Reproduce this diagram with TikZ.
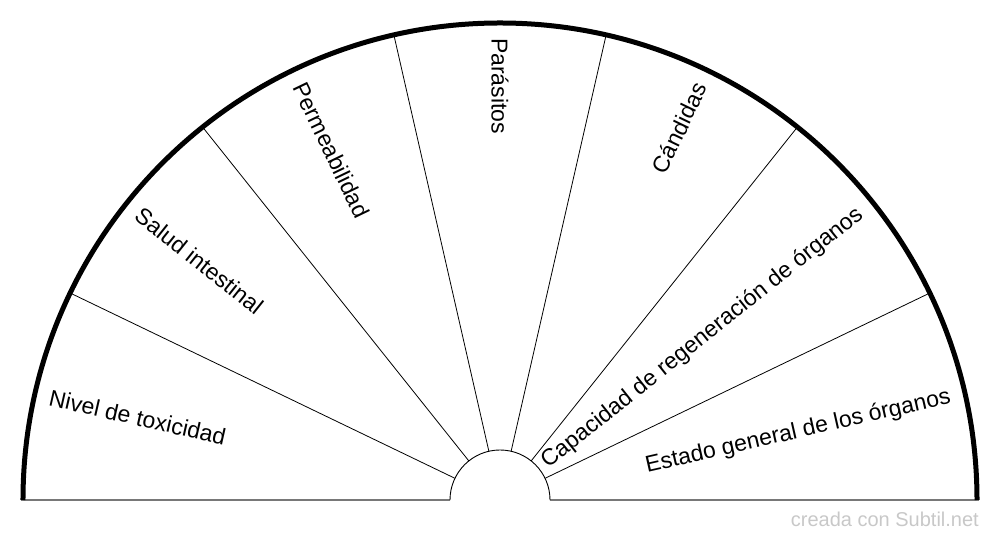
\documentclass[tikz,border=0pt]{standalone}
\usepackage{fontspec}
\setmainfont{Liberation Sans}
\usepackage{tikz}
\usetikzlibrary{calc}
\tikzset{>=latex}
\definecolor{baseGray}{RGB}{120,120,120}
\definecolor{markGray}{RGB}{200,200,200}
\tikzstyle{spoke} = [-, draw=black, line width=0.8pt]
\tikzstyle{lbl} = [inner sep=0pt, font=\fontsize{23}{26}\selectfont]

\begin{document}
\begin{tikzpicture}[x=1pt, y=1pt]
\useasboundingbox (-500,-40) rectangle (500,500);
\coordinate (O) at (0,0);
\draw [draw=baseGray, line width=1.8pt] (-479,0) -- (-50,0);
\draw [draw=baseGray, line width=1.8pt] (50,0) -- (479,0);
\draw [line width=0.9pt] (50,0) arc (0:180:50);
\draw [spoke] (25.714:50) -- (25.714:477);
\draw [spoke] (51.429:50) -- (51.429:477);
\draw [spoke] (77.143:50) -- (77.143:477);
\draw [spoke] (102.857:50) -- (102.857:477);
\draw [spoke] (128.571:50) -- (128.571:477);
\draw [spoke] (154.286:50) -- (154.286:477);
\draw [line width=5pt] (477,0) arc (0:180:477);
\node [lbl, rotate=12.857, anchor=east] (estado) at (12.857:462) {Estado general de los órganos};
\node [lbl, rotate=38.571, anchor=east] (capacidad) at (38.571:462) {Capacidad de regeneración de órganos};
\node [lbl, rotate=64.286, anchor=east] (candidas) at (64.286:462) {Cándidas};
\node [lbl, rotate=-90, anchor=west] (parasitos) at (90:462) {Parásitos};
\node [lbl, rotate=-64.286, anchor=west] (permeabilidad) at (115.714:462) {Permeabilidad};
\node [lbl, rotate=-38.571, anchor=west] (salud) at (141.429:462) {Salud intestinal};
\node [lbl, rotate=-12.857, anchor=west] (nivel) at (167.143:462) {Nivel de toxicidad};
\node [inner sep=0pt, anchor=base east, text=markGray, font=\fontsize{20}{22}\selectfont] (marca) at (479,-27) {creada con Subtil.net};
\end{tikzpicture}
\end{document}
